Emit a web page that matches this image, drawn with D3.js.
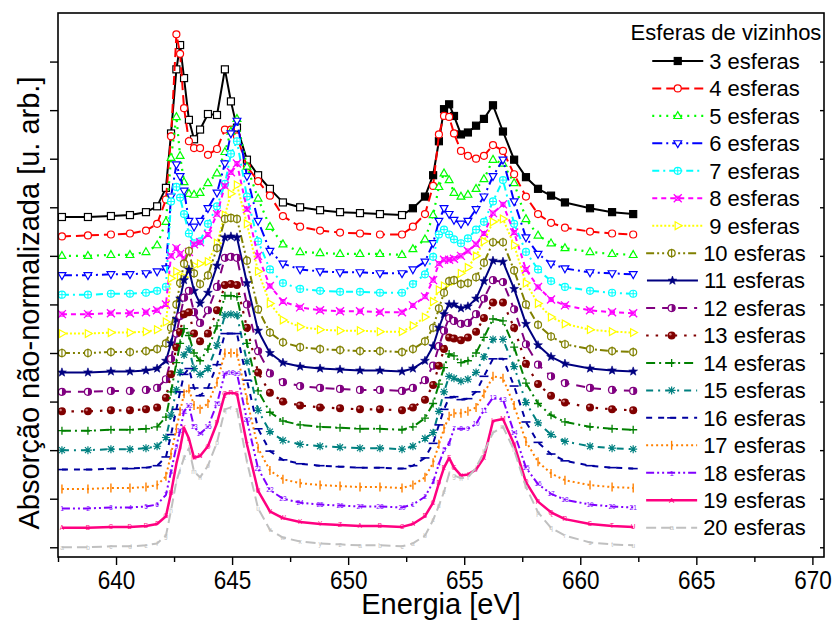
<!DOCTYPE html>
<html>
<head>
<meta charset="utf-8">
<script src="https://cdn.jsdelivr.net/npm/d3@7"></script>
<style>
  body { margin: 0; background: #fff; }
  text { font-family: "Liberation Sans", Arial, sans-serif; }
</style>
</head>
<body>
<svg id="chart" width="838" height="625"></svg>
<script>
// Photon energy grid (eV); first 29 points cover the L3 edge, the rest the L2 edge
const energy = [637.67, 638.79, 639.78, 640.60, 641.29, 641.77, 642.15, 642.37, 642.60, 642.76,
  642.93, 643.14, 643.36, 643.62, 643.96, 644.35, 644.69, 644.95, 645.21, 645.64,
  646.12, 646.63, 647.19, 647.93, 648.79, 649.65, 650.51, 651.37, 652.32, 652.79,
  653.31, 653.66, 653.91, 654.13, 654.35, 654.56, 654.86, 655.16, 655.51, 655.85,
  656.24, 656.67, 657.15, 657.66, 658.18, 658.74, 659.34, 660.42, 661.37, 662.28];
const L3_COUNT = 29;

// Neighbour-shell counts in the cluster calculation
const shells = [3, 4, 5, 6, 7, 8, 9, 10, 11, 12, 13, 14, 15, 16, 17, 18, 19, 20];

// Calculated absorption (arbitrary units), one array per cluster size
const abs3 = [0,0,1,2,5,11,30,86,152,177,143,100,80,90,106,105,152,119,92,59,43,29,15,10,7,5,4,3,2,9,21,43,78,111,116,104,85,87,94,101,115,88,59,41,29,22,15,9,5,3];
const abs4 = [0,1,2,3,6,13,38,103,208,188,132,98,91,91,84,90,110,110,103,72,57,42,21,10,6,4,3,2,2,10,23,52,105,124,123,106,88,83,80,83,94,88,64,41,23,14,9,5,3,2];
const abs5 = [0,0,1,1,4,11,35,101,143,103,76,64,63,65,75,85,107,128,141,92,59,30,12,4,3,2,2,2,1,7,17,42,71,85,78,65,61,63,69,79,99,95,75,38,21,13,8,4,2,1];
const abs6 = [0,0,1,1,2,4,7,81,114,102,87,56,50,56,69,85,115,146,159,102,56,25,12,6,4,3,3,2,2,6,14,33,56,69,63,57,53,56,68,81,102,119,76,39,22,12,7,3,2,1];
const abs7 = [0,0,1,1,2,4,8,96,111,100,83,63,53,55,73,91,114,145,158,101,55,26,12,6,4,3,3,2,2,11,21,39,62,67,62,57,53,58,67,75,96,118,73,44,26,14,8,4,2,1];
const abs8 = [0,0,1,1,2,4,10,60,68,62,57,64,72,74,82,103,132,146,155,108,60,29,13,7,4,3,3,2,2,9,18,35,52,56,56,57,60,65,72,83,104,113,84,46,28,15,9,4,2,1];
const abs9 = [0,0,1,1,2,4,12,57,64,58,58,65,70,72,74,93,122,144,153,113,64,31,14,7,4,3,3,2,2,8,17,33,45,49,52,54,62,68,80,95,115,118,91,52,31,17,10,4,2,1];
const abs10 = [0,0,1,1,2,4,10,26,50,72,92,105,82,71,80,108,138,139,138,95,45,21,11,6,4,3,2,2,1,4,12,26,46,62,74,75,71,72,78,93,114,114,85,50,29,17,9,4,2,1];
const abs11 = [0,0,1,1,2,4,12,30,55,76,95,106,84,71,82,110,139,140,139,92,43,20,10,6,4,3,2,2,1,4,12,27,46,60,70,70,66,68,76,94,115,114,86,50,28,16,9,4,2,1];
const abs12 = [0,0,1,1,2,4,13,34,60,78,97,104,82,71,84,108,138,139,138,90,42,19,10,6,4,3,2,2,1,4,12,27,47,63,76,73,70,71,80,96,115,113,85,49,28,16,9,4,2,1];
const abs13 = [0,0,1,1,2,4,14,38,66,82,100,102,80,72,80,104,130,131,130,86,40,19,10,6,4,3,2,2,1,4,12,27,47,64,76,75,73,76,82,96,112,112,86,49,28,16,9,4,2,1];
const abs14 = [0,0,1,1,2,4,14,40,70,90,105,98,80,72,84,108,139,139,138,90,41,19,10,6,4,3,2,2,1,4,13,28,48,65,79,77,70,72,80,96,115,113,86,49,28,16,9,4,2,1];
const abs15 = [0,0,1,1,2,4,13,36,62,80,98,104,84,78,84,108,139,140,139,91,41,19,10,6,4,3,2,2,1,4,12,18,40,60,76,74,71,73,80,96,114,114,86,49,28,16,9,4,2,1];
const abs16 = [0,0,1,1,2,4,13,36,62,80,98,104,84,76,84,108,140,140,140,92,42,19,10,6,4,3,2,2,1,4,12,27,46,62,74,75,72,73,80,96,114,114,86,49,28,16,9,4,2,1];
const abs17 = [0,0,1,1,2,4,13,36,62,80,98,103,86,82,88,110,140,140,140,92,42,19,10,6,4,3,2,2,1,4,12,27,46,62,75,78,78,80,84,98,116,114,86,49,28,16,9,4,2,1];
const abs18 = [0,0,1,1,2,4,14,38,64,80,100,106,84,77,84,108,139,140,139,91,41,19,10,6,4,3,2,2,1,4,12,27,46,60,67,82,82,82,87,101,114,112,78,42,25,15,9,4,2,1];
const abs19 = [0,0,1,1,2,4,12,36,66,82,103,92,72,74,84,108,138,139,138,86,38,17,10,6,4,3,2,2,1,4,12,26,46,62,72,62,54,55,60,72,110,112,86,47,27,16,9,4,2,1];
const abs20 = [0,0,1,1,2,4,12,38,68,80,92,102,78,72,84,108,142,144,142,88,40,18,10,6,4,3,2,2,1,4,12,28,43,57,76,74,71,72,82,98,118,124,100,62,36,20,12,5,3,2];

const spectra = [abs3, abs4, abs5, abs6, abs7, abs8, abs9, abs10, abs11, abs12,
  abs13, abs14, abs15, abs16, abs17, abs18, abs19, abs20];

// Axis ticks
const xTicks = [640, 645, 650, 655, 660, 665, 670];
const xMinorTicks = [637.5, 642.5, 647.5, 652.5, 657.5, 662.5, 667.5];
const yTicks = [0, 50, 100, 150, 200, 250, 300, 350, 400, 450, 500];

// Text
const legendTitle = "Esferas de vizinhos";
const xLabel = "Energia [eV]";
const yLabel = "Absorção não-normalizada [u. arb.]";

// Vertical shift between successive spectra (same units as the data)
const STEP = 20;

// Line / marker styles per shell count
const styles = {
  3:  { color: "#000000", dash: null,                 marker: "square",   w: 2 },
  4:  { color: "#ff0000", dash: "9,5",                marker: "circle",   w: 2 },
  5:  { color: "#00ff00", dash: "2,5",                marker: "triUp",    w: 2.2 },
  6:  { color: "#0000ff", dash: "10,4,2,4",           marker: "triDown",  w: 2 },
  7:  { color: "#00ffff", dash: "7,4,2,4",            marker: "circPlus", w: 2 },
  8:  { color: "#ff00ff", dash: "5,4",                marker: "boxX",     w: 2 },
  9:  { color: "#ffff00", dash: "2,2",                marker: "triRight", w: 2 },
  10: { color: "#808000", dash: "8,3,2,3,2,3",        marker: "circBar",  w: 2 },
  11: { color: "#000080", dash: null,                 marker: "star",     w: 2 },
  12: { color: "#800080", dash: "9,7",                marker: "half",     w: 2 },
  13: { color: "#800000", dash: "2.5,7",              marker: "sphere",   w: 2.2 },
  14: { color: "#008000", dash: "9,4,2,4",            marker: "plus",     w: 2 },
  15: { color: "#008080", dash: "7,5,2,5",            marker: "aster",    w: 2 },
  16: { color: "#0000a0", dash: "6,6",                marker: "hbar",     w: 2 },
  17: { color: "#ff8000", dash: "2,3",                marker: "vbar",     w: 2 },
  18: { color: "#8000ff", dash: "8,3,2,3,2,3",        marker: "number",   w: 2 },
  19: { color: "#ff0080", dash: null,                 marker: "upper",    w: 2.5 },
  20: { color: "#c0c0c0", dash: "10,5",               marker: "lower",    w: 2 }
};

const svg = d3.select("#chart");
const plot = { left: 58, right: 824, top: 13, bottom: 557 };

const x = d3.scaleLinear().domain([637.5, 670.5]).range([plot.left, plot.right]);
const y = d3.scaleLinear().domain([-10, 550]).range([plot.bottom, plot.top]);

svg.append("rect").attr("width", 838).attr("height", 625).attr("fill", "#fff");

svg.append("clipPath").attr("id", "plotClip")
  .append("rect")
  .attr("x", plot.left).attr("y", plot.top)
  .attr("width", plot.right - plot.left).attr("height", plot.bottom - plot.top);

// Draws one marker centred at (0,0) inside group g
function drawMarker(g, kind, color, filled, label, labelSize) {
  const r = 3.5;
  switch (kind) {
    case "square":
      g.append("rect").attr("x", -r).attr("y", -r).attr("width", 2 * r).attr("height", 2 * r)
        .attr("fill", filled ? color : "#fff").attr("stroke", color).attr("stroke-width", 1.2);
      break;
    case "circle":
      g.append("circle").attr("r", r).attr("fill", "#fff").attr("stroke", color).attr("stroke-width", 1.2);
      break;
    case "triUp":
      g.append("path").attr("d", "M0,-4.3L3.9,2.6L-3.9,2.6Z")
        .attr("fill", "#fff").attr("stroke", color).attr("stroke-width", 1.2);
      break;
    case "triDown":
      g.append("path").attr("d", "M0,4.3L3.9,-2.6L-3.9,-2.6Z")
        .attr("fill", "#fff").attr("stroke", color).attr("stroke-width", 1.2);
      break;
    case "triRight":
      g.append("path").attr("d", "M4.3,0L-2.6,3.9L-2.6,-3.9Z")
        .attr("fill", "#fff").attr("stroke", color).attr("stroke-width", 1.2);
      break;
    case "circPlus":
      g.append("circle").attr("r", r).attr("fill", "#fff").attr("stroke", color).attr("stroke-width", 1.2);
      g.append("path").attr("d", `M${-r},0H${r}M0,${-r}V${r}`).attr("stroke", color).attr("stroke-width", 1);
      break;
    case "boxX":
      g.append("rect").attr("x", -2).attr("y", -2).attr("width", 4).attr("height", 4)
        .attr("fill", "none").attr("stroke", color).attr("stroke-width", 1);
      g.append("path").attr("d", "M-4,-4L4,4M-4,4L4,-4").attr("stroke", color).attr("stroke-width", 1.3);
      break;
    case "circBar":
      g.append("circle").attr("r", r).attr("fill", "#fff").attr("stroke", color).attr("stroke-width", 1.2);
      g.append("path").attr("d", `M0,${-r - 1}V${r + 1}`).attr("stroke", color).attr("stroke-width", 1.2);
      break;
    case "star": {
      const pts = d3.range(10).map(i => {
        const a = -Math.PI / 2 + i * Math.PI / 5;
        const rr = i % 2 ? 1.9 : 4.6;
        return [rr * Math.cos(a), rr * Math.sin(a)];
      });
      g.append("path").attr("d", "M" + pts.join("L") + "Z").attr("fill", color).attr("stroke", color).attr("stroke-width", 0.6);
      break;
    }
    case "half":
      g.append("circle").attr("r", r).attr("fill", "#fff").attr("stroke", color).attr("stroke-width", 1.2);
      g.append("path").attr("d", `M0,${-r}A${r},${r} 0 0 1 0,${r}Z`).attr("fill", color);
      break;
    case "sphere":
      g.append("circle").attr("r", 4).attr("fill", color);
      g.append("circle").attr("r", 1.2).attr("cx", -1.3).attr("cy", -1.3).attr("fill", "#d08080");
      break;
    case "plus":
      g.append("path").attr("d", "M-4,0H4M0,-4V4").attr("stroke", color).attr("stroke-width", 1.3);
      break;
    case "aster":
      g.append("path").attr("d", "M-4,0H4M0,-4V4M-3,-3L3,3M-3,3L3,-3").attr("stroke", color).attr("stroke-width", 1.2);
      break;
    case "hbar":
      g.append("path").attr("d", "M-4.5,0H4.5").attr("stroke", color).attr("stroke-width", 1.6);
      break;
    case "vbar":
      g.append("path").attr("d", "M0,-4.5V4.5").attr("stroke", color).attr("stroke-width", 1.4);
      break;
    case "number":
    case "upper":
    case "lower":
      g.append("text").attr("text-anchor", "middle").attr("dy", "0.35em")
        .attr("font-size", labelSize).attr("fill", color).text(label);
      break;
  }
}

function markerLabel(kind, n) {
  if (kind === "number") return String(n);
  if (kind === "upper") return String.fromCharCode(65 + (n - 1) % 26);
  if (kind === "lower") return String.fromCharCode(97 + (n - 1) % 26);
  return "";
}

// Spectra, stacked with a constant vertical shift
const curves = svg.append("g").attr("clip-path", "url(#plotClip)");
shells.forEach((n, k) => {
  const st = styles[n];
  const offset = (20 - n) * STEP;
  const vals = spectra[k];
  const line = d3.line()
    .x((d, i) => x(energy[i]))
    .y(d => y(d + offset));
  const g = curves.append("g");
  g.append("path").datum(vals)
    .attr("d", line)
    .attr("fill", "none")
    .attr("stroke", st.color)
    .attr("stroke-width", st.w)
    .attr("stroke-dasharray", st.dash)
    .attr("stroke-linejoin", "round");
  vals.forEach((v, i) => {
    const idx = i < L3_COUNT ? i + 1 : i - L3_COUNT + 1;
    const mg = g.append("g").attr("transform", `translate(${x(energy[i])},${y(v + offset)})`);
    drawMarker(mg, st.marker, st.color, energy[i] > 652.5, markerLabel(st.marker, idx), 6.5);
  });
});

// Axes
const bottom = svg.append("g").attr("transform", `translate(0,${plot.bottom})`)
  .call(d3.axisBottom(x).tickValues(xTicks).tickSize(8).tickPadding(6).tickFormat(d3.format("d")));
// slightly condensed tick numerals
bottom.selectAll(".tick text")
  .attr("font-size", 25).attr("fill", "#000")
  .attr("font-family", "'Liberation Sans', Arial, sans-serif")
  .attr("transform", "scale(0.9,1)")
  .attr("x", function () { return 0; });
svg.append("g").attr("transform", `translate(0,${plot.bottom})`)
  .call(d3.axisBottom(x).tickValues(xMinorTicks).tickSize(5).tickFormat(""));
svg.append("g").attr("transform", `translate(${plot.left},0)`)
  .call(d3.axisLeft(y).tickValues(yTicks).tickSize(8).tickFormat(""));
const rightAxis = svg.append("g").attr("transform", `translate(${plot.right},0)`)
  .call(d3.axisLeft(y).tickValues(yTicks).tickSize(4).tickFormat(""));
rightAxis.selectAll(".tick line").attr("x2", -4);
svg.selectAll(".domain").remove();
svg.selectAll(".tick line").attr("stroke", "#000").attr("stroke-width", 1.4);

// Frame
svg.append("rect")
  .attr("x", plot.left).attr("y", plot.top)
  .attr("width", plot.right - plot.left).attr("height", plot.bottom - plot.top)
  .attr("fill", "none").attr("stroke", "#000").attr("stroke-width", 1.6);

// Axis titles
svg.append("text")
  .attr("x", (plot.left + plot.right) / 2).attr("y", 614)
  .attr("text-anchor", "middle").attr("font-size", 29).text(xLabel);
svg.append("text")
  .attr("transform", "translate(39,303) rotate(-90)")
  .attr("text-anchor", "middle").attr("font-size", 29).text(yLabel);

// Legend
const legend = svg.append("g");
const legendCx = 726;
legend.append("text").attr("x", legendCx).attr("y", 40)
  .attr("text-anchor", "middle").attr("font-size", 22).text(legendTitle);
shells.forEach((n, k) => {
  const st = styles[n];
  const ly = 61 + k * 27.45;
  const g = legend.append("g");
  const t = g.append("text").attr("y", ly + 7.8).attr("font-size", 22).text(`${n} esferas`);
  const tw = t.node().getComputedTextLength();
  const sample = 51, gap = 6;
  const x0 = legendCx - (sample + gap + tw) / 2;
  t.attr("x", x0 + sample + gap);
  g.append("line").attr("x1", x0).attr("x2", x0 + sample).attr("y1", ly).attr("y2", ly)
    .attr("stroke", st.color).attr("stroke-width", st.w).attr("stroke-dasharray", st.dash);
  const mg = g.append("g").attr("transform", `translate(${x0 + sample / 2},${ly})`);
  drawMarker(mg, st.marker, st.color, true, markerLabel(st.marker, 1), 8);
});
</script>
</body>
</html>
